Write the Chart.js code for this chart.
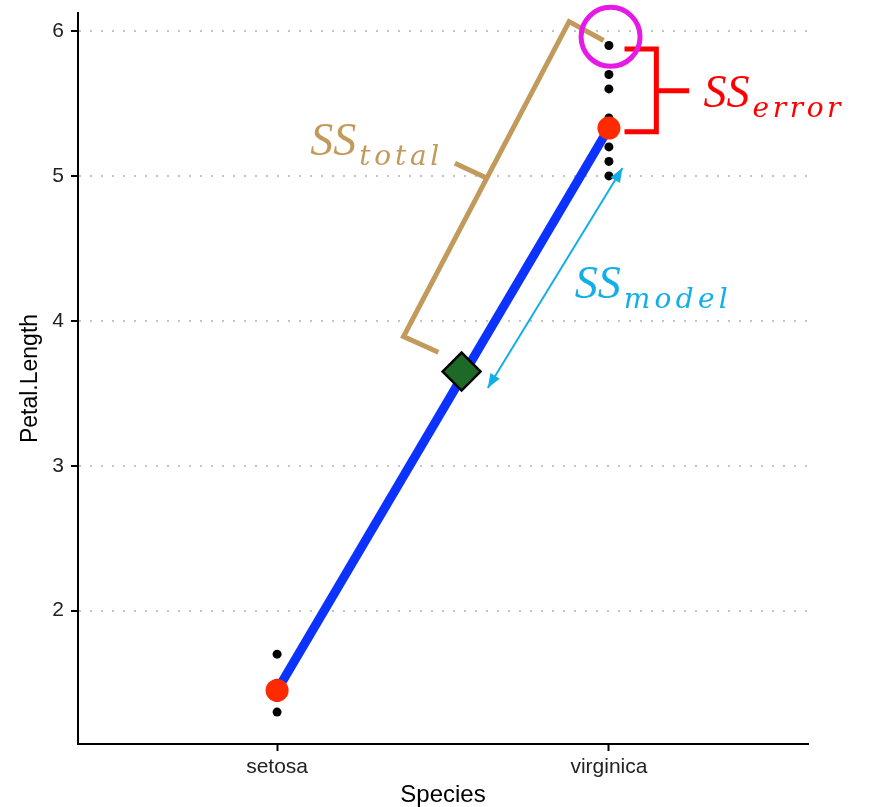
<!DOCTYPE html>
<html>
<head>
<meta charset="utf-8">
<script src="https://cdn.jsdelivr.net/npm/chart.js@4.4.1/dist/chart.umd.min.js"></script>
<style>
  html, body { margin: 0; padding: 0; background: #fff; }
  #wrap { width: 874px; height: 807px; }
</style>
</head>
<body>
<div id="wrap"><canvas id="chart" width="874" height="807"></canvas></div>
<script>
// x categories sit at 1 and 2 on a linear axis
const species = ['setosa', 'virginica'];
const speciesX = [1, 2];
const yTicks = [2, 3, 4, 5, 6];

// observations
const setosaLengths = [1.3, 1.4, 1.5, 1.7];
const virginicaLengths = [5.0, 5.1, 5.2, 5.3, 5.4, 5.6, 5.7, 5.9];

// group means + grand mean
const groupMeans = [1.45, 5.33];
const grandMean = [1.556, 3.65];

// annotation shapes (data units)
const totalBracketX = [1.984, 1.880, 1.381, 1.486];
const totalBracketY = [5.934, 6.065, 3.891, 3.783];
const totalTickX = [1.633, 1.536];
const totalTickY = [4.984, 5.088];
const errorBracketX = [2.047, 2.143, 2.143, 2.047];
const errorBracketY = [5.876, 5.876, 5.304, 5.304];
const errorTickX = [2.143, 2.242];
const errorTickY = [5.587, 5.587];
const modelArrowX = [2.041, 1.635];
const modelArrowY = [5.054, 3.537];
const circledPoint = [2.005, 5.96];

const labels = [
  { sub: 'total', x: 1.100, y: 5.145, color: '#c29b5c', subWidth: 80 },
  { sub: 'error', x: 2.285, y: 5.476, color: '#ff0000', subWidth: 88 },
  { sub: 'model', x: 1.897, y: 4.157, color: '#12aee8', subWidth: 104 }
];

const pts = (xs, ys) => xs.map((x, i) => ({ x: x, y: ys[i] }));

const shapeLine = (data, color, width) => ({
  data: data,
  showLine: true,
  borderColor: color,
  borderWidth: width,
  borderJoinStyle: 'miter',
  borderCapStyle: 'butt',
  pointRadius: 0,
  clip: false
});

const annotate = {
  id: 'annotate',
  afterDatasetsDraw(chart) {
    const ctx = chart.ctx;
    const xs = chart.scales.x, ys = chart.scales.y;

    // arrow heads on both ends of the SS model arrow
    const p0 = { x: xs.getPixelForValue(modelArrowX[0]), y: ys.getPixelForValue(modelArrowY[0]) };
    const p1 = { x: xs.getPixelForValue(modelArrowX[1]), y: ys.getPixelForValue(modelArrowY[1]) };
    const head = (tip, from) => {
      const a = Math.atan2(tip.y - from.y, tip.x - from.x);
      const len = 14, hw = 5.5;
      ctx.beginPath();
      ctx.moveTo(tip.x, tip.y);
      ctx.lineTo(tip.x - len * Math.cos(a) + hw * Math.sin(a), tip.y - len * Math.sin(a) - hw * Math.cos(a));
      ctx.lineTo(tip.x - len * Math.cos(a) - hw * Math.sin(a), tip.y - len * Math.sin(a) + hw * Math.cos(a));
      ctx.closePath();
      ctx.fill();
    };
    ctx.save();
    ctx.fillStyle = '#12aee8';
    head(p0, p1);
    head(p1, p0);
    ctx.restore();

    // SS labels with subscripts
    labels.forEach(lab => {
      const x = xs.getPixelForValue(lab.x);
      const y = ys.getPixelForValue(lab.y);
      ctx.save();
      ctx.fillStyle = lab.color;
      ctx.textAlign = 'left';
      ctx.textBaseline = 'alphabetic';
      ctx.font = 'italic 46px "Liberation Serif"';
      ctx.fillText('SS', x, y);
      let cx = x + ctx.measureText('SS').width + 3;
      ctx.font = 'italic 28px "DejaVu Serif"';
      const raw = ctx.measureText(lab.sub).width;
      const gap = Math.max(0, (lab.subWidth - raw) / (lab.sub.length - 1));
      for (const ch of lab.sub) {
        ctx.fillText(ch, cx, y + 10);
        cx += ctx.measureText(ch).width + gap;
      }
      ctx.restore();
    });
  }
};

const ctx = document.getElementById('chart').getContext('2d');
new Chart(ctx, {
  type: 'scatter',
  data: {
    datasets: [
      {
        data: [{ x: circledPoint[0], y: circledPoint[1] }],
        pointRadius: 29.5,
        pointBorderWidth: 5,
        pointBorderColor: '#e619e6',
        pointBackgroundColor: 'rgba(0,0,0,0)',
        clip: false
      },
      shapeLine(pts(modelArrowX, modelArrowY), '#12aee8', 2),
      shapeLine(pts(errorBracketX, errorBracketY), '#ff0000', 5),
      shapeLine(pts(errorTickX, errorTickY), '#ff0000', 5),
      shapeLine(pts(totalBracketX, totalBracketY), '#c29b5c', 5),
      shapeLine(pts(totalTickX, totalTickY), '#c29b5c', 5),
      {
        data: [{ x: grandMean[0], y: grandMean[1] }],
        pointStyle: 'rectRot',
        pointRadius: 19,
        pointBorderWidth: 2.5,
        pointBorderColor: '#000',
        pointBackgroundColor: '#1c6a25'
      },
      {
        data: pts(speciesX, groupMeans),
        pointRadius: 11.5,
        pointBorderWidth: 0,
        pointBackgroundColor: '#ff2a00'
      },
      {
        data: pts(speciesX, groupMeans),
        showLine: true,
        borderColor: '#0b32ff',
        borderWidth: 9,
        borderCapStyle: 'butt',
        pointRadius: 0
      },
      {
        data: setosaLengths.map(v => ({ x: speciesX[0], y: v }))
          .concat(virginicaLengths.map(v => ({ x: speciesX[1], y: v }))),
        pointRadius: 4.5,
        pointBorderWidth: 0,
        pointBackgroundColor: '#000'
      }
    ]
  },
  options: {
    responsive: false,
    animation: false,
    events: [],
    layout: { autoPadding: false, padding: { top: 13, right: 66, left: 0, bottom: 0 } },
    plugins: { legend: { display: false }, tooltip: { enabled: false } },
    scales: {
      x: {
        type: 'linear',
        min: 0.4,
        max: 2.6,
        afterBuildTicks: s => { s.ticks = speciesX.map(v => ({ value: v })); },
        afterFit: s => { s.height = 63; s.paddingLeft = 0; s.paddingRight = 0; },
        ticks: {
          callback: (v, i) => species[i],
          color: '#222',
          font: { family: '"Liberation Sans"', size: 21 },
          padding: 4,
          maxRotation: 0
        },
        grid: { drawOnChartArea: false, tickColor: '#000', tickWidth: 2, tickLength: 7 },
        border: { color: '#000', width: 2 },
        title: {
          display: true,
          text: 'Species',
          color: '#000',
          font: { family: '"Liberation Sans"', size: 24, lineHeight: 1 },
          padding: { top: 0, bottom: 0 }
        }
      },
      y: {
        min: 1.08,
        max: 6.124,
        afterBuildTicks: s => { s.ticks = yTicks.map(v => ({ value: v })); },
        afterFit: s => { s.width = 78; s.paddingTop = 0; s.paddingBottom = 0; },
        ticks: {
          color: '#222',
          font: { family: '"Liberation Sans"', size: 21 },
          padding: 7
        },
        grid: { color: '#c4c4c4', lineWidth: 2, tickColor: '#000', tickWidth: 2, tickLength: 7 },
        border: { color: '#000', width: 2, dash: [2, 9] },
        title: {
          display: true,
          text: 'Petal.Length',
          color: '#000',
          font: { family: '"Liberation Sans"', size: 23 },
          padding: { top: 17, bottom: 0 }
        }
      }
    }
  },
  plugins: [annotate]
});
</script>
</body>
</html>
